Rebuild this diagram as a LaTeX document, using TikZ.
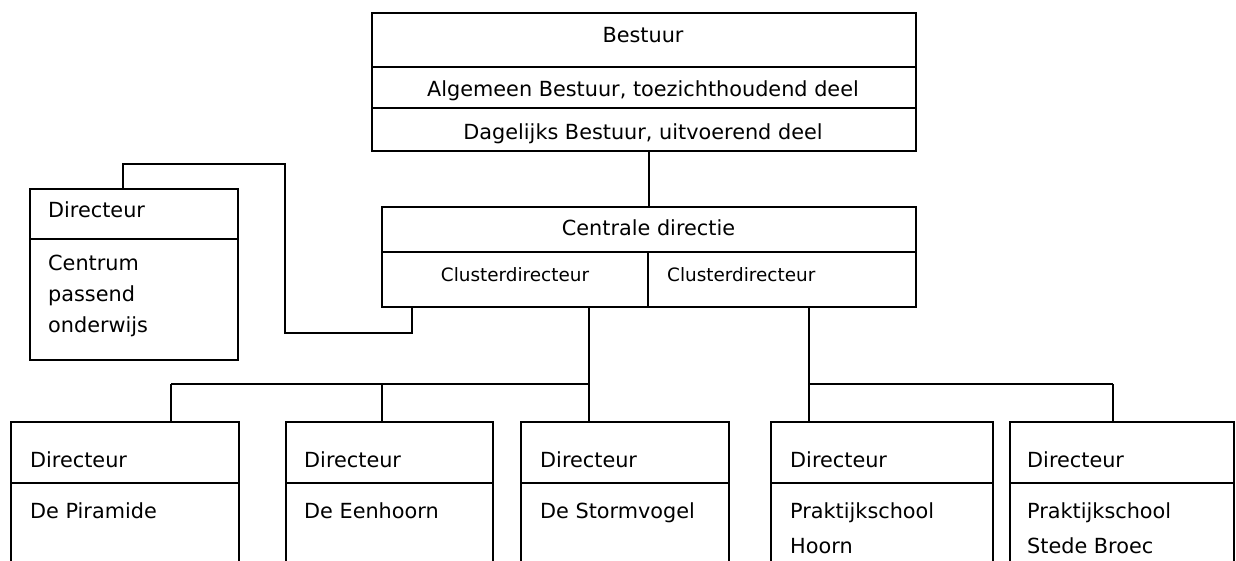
\documentclass[tikz,border=0pt]{standalone}
\usepackage{fontspec}
\setmainfont{DejaVu Sans}
\begin{document}
\begin{tikzpicture}[x=1pt,y=-1pt,
  line/.style={line width=1.8pt},
  box/.style={draw,line width=1.8pt,rectangle,inner sep=0pt,anchor=north west},
  txt/.style={inner sep=0pt,font=\fontsize{20.8}{24}\selectfont},
  ctxt/.style={inner sep=0pt,font=\fontsize{18.4}{22}\selectfont}]
\clip (0,0) rectangle (1236,561);
\fill[white] (0,0) rectangle (1236,561);
% Bestuur
\node[box,minimum width=544pt,minimum height=138pt] (best) at (371,12) {};
\draw[line] (371,67) -- (915,67);
\draw[line] (371,108) -- (915,108);
\node[txt,anchor=base] (t1) at (643,43) {Bestuur};
\node[txt,anchor=base] (t2) at (643,97) {Algemeen Bestuur, toezichthoudend deel};
\node[txt,anchor=base] (t3) at (643,140) {Dagelijks Bestuur, uitvoerend deel};
% Centrale directie
\node[box,minimum width=534pt,minimum height=100pt] (cen) at (381,206) {};
\draw[line] (381,252) -- (915,252);
\draw[line] (648,252) -- (648,306);
\node[txt,anchor=base] (t4) at (648.5,236) {Centrale directie};
\node[ctxt,anchor=base] (cl1) at (515,281) {Clusterdirecteur};
\node[ctxt,anchor=base west] (cl2) at (667,281) {Clusterdirecteur};
\draw[line] (best.south -| cen.north) -- (cen.north);
% Centrum passend onderwijs
\node[box,minimum width=208pt,minimum height=171pt] (cpo) at (29,188) {};
\draw[line] (29,239) -- (237,239);
\node[txt,anchor=base west] at (48,218) {Directeur};
\node[txt,anchor=base west] at (48,270) {Centrum};
\node[txt,anchor=base west] at (48,301) {passend};
\node[txt,anchor=base west] at (48,332) {onderwijs};
\coordinate (cpoT) at (123,188);
\coordinate (cenB) at (412,306);
\draw[line] (cpoT) -- (123,164) -- (285,164) -- (285,333) -- (412,333) -- (cenB);
% bottom boxes
\node[box,minimum width=228pt,minimum height=200pt] (b1) at (10,421) {};
\node[box,minimum width=207pt,minimum height=200pt] (b2) at (285,421) {};
\node[box,minimum width=208pt,minimum height=200pt] (b3) at (520,421) {};
\node[box,minimum width=222pt,minimum height=200pt] (b4) at (770,421) {};
\node[box,minimum width=224pt,minimum height=200pt] (b5) at (1009,421) {};
\foreach \l/\r in {10/238,285/492,520/728,770/992,1009/1233}
  \draw[line] (\l,483) -- (\r,483);
\node[txt,anchor=base west] at (30,467) {Directeur};
\node[txt,anchor=base west] at (30,518) {De Piramide};
\node[txt,anchor=base west] at (304,467) {Directeur};
\node[txt,anchor=base west] at (304,518) {De Eenhoorn};
\node[txt,anchor=base west] at (540,467) {Directeur};
\node[txt,anchor=base west] at (540,518) {De Stormvogel};
\node[txt,anchor=base west] at (790,467) {Directeur};
\node[txt,anchor=base west] at (790,518) {Praktijkschool};
\node[txt,anchor=base west] at (790,553) {Hoorn};
\node[txt,anchor=base west] at (1027,467) {Directeur};
\node[txt,anchor=base west] at (1027,518) {Praktijkschool};
\node[txt,anchor=base west] at (1027,553) {Stede Broec};
% connectors
\coordinate (jl) at (589,384);
\coordinate (jr) at (809,384);
\coordinate (d1) at (171,384);
\coordinate (d2) at (382,384);
\coordinate (d5) at (1113,384);
\draw[line] (cen.south -| jl) -- (jl);
\draw[line] (cen.south -| jr) -- (jr);
\draw[line] (d1) -- (jl);
\draw[line] (jr) -- (d5);
\draw[line] (d1) -- (b1.north -| d1);
\draw[line] (d2) -- (b2.north -| d2);
\draw[line] (jl) -- (b3.north -| jl);
\draw[line] (jr) -- (b4.north -| jr);
\draw[line] (d5) -- (b5.north -| d5);
\end{tikzpicture}
\end{document}
